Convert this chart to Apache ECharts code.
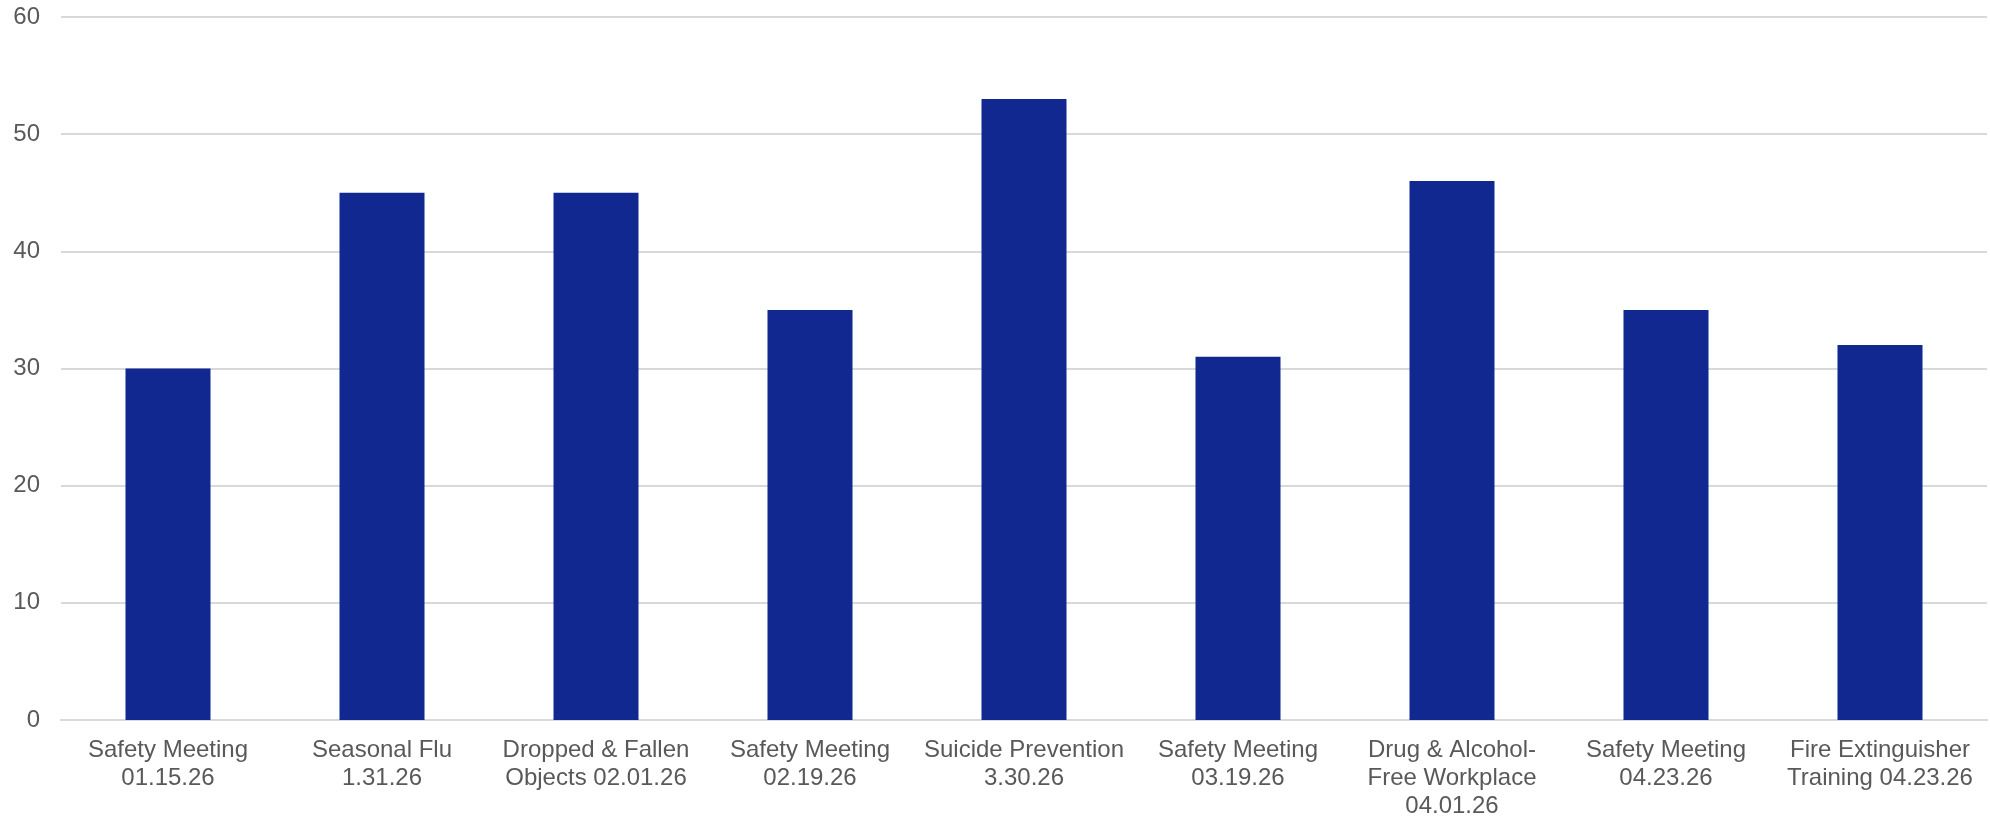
<!DOCTYPE html>
<html>
<head>
<meta charset="utf-8">
<script src="https://cdn.jsdelivr.net/npm/echarts@6/dist/echarts.min.js"></script>
<style>
  html, body { margin: 0; padding: 0; background: #fff; }
  #chart { width: 1990px; height: 817px; }
</style>
</head>
<body>
<div id="chart"></div>
<script>
// training sessions on the x axis
var categories = [
  'Safety Meeting\n01.15.26',
  'Seasonal Flu\n1.31.26',
  'Dropped & Fallen\nObjects 02.01.26',
  'Safety Meeting\n02.19.26',
  'Suicide Prevention\n3.30.26',
  'Safety Meeting\n03.19.26',
  'Drug & Alcohol-\nFree Workplace\n04.01.26',
  'Safety Meeting\n04.23.26',
  'Fire Extinguisher\nTraining 04.23.26'
]
var attendees = [30, 45, 45, 35, 53, 31, 46, 35, 32]
var yTicks = { min: 0, max: 60, step: 10 }

var textColor = '#595959'
var gridColor = '#d9d9d9'

var myChart = echarts.init(document.getElementById('chart'))
var option = {
  backgroundColor: '#ffffff',
  animation: false,
  textStyle: { fontFamily: 'Liberation Sans, Arial, sans-serif' },
  grid: {
    left: 61,
    right: 3,
    top: 17,
    bottom: 97,
    containLabel: false,
    outerBoundsMode: 'none'
  },
  xAxis: {
    type: 'category',
    data: categories,
    axisTick: { show: false },
    axisLine: { lineStyle: { color: gridColor, width: 2 } },
    axisLabel: {
      interval: 0,
      margin: 16,
      color: textColor,
      fontSize: 24,
      lineHeight: 28,
      fontFamily: 'Liberation Sans, Arial, sans-serif'
    }
  },
  yAxis: {
    type: 'value',
    min: yTicks.min,
    max: yTicks.max,
    interval: yTicks.step,
    axisLine: { show: false },
    axisTick: { show: false },
    splitLine: { lineStyle: { color: gridColor, width: 2 } },
    axisLabel: {
      margin: 21,
      color: textColor,
      fontSize: 24,
      fontFamily: 'Liberation Sans, Arial, sans-serif'
    }
  },
  series: [{
    type: 'bar',
    data: attendees,
    barWidth: 85,
    itemStyle: { color: '#10288f' }
  }]
}
myChart.setOption(option)
</script>
</body>
</html>
